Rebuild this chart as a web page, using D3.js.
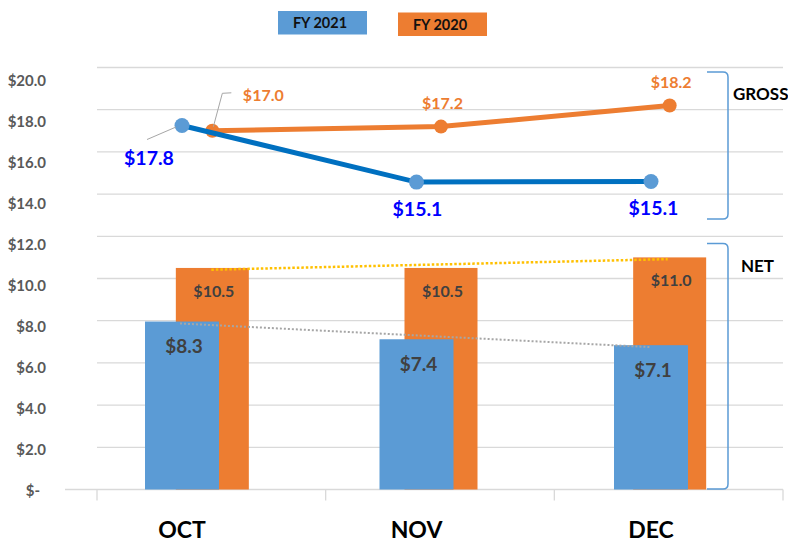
<!DOCTYPE html>
<html><head><meta charset="utf-8">
<script src="https://cdn.jsdelivr.net/npm/d3@7"></script>
<style>body{margin:0;background:#fff}svg{display:block;font-family:Lato,'Noto Sans',sans-serif}</style>
</head><body><svg id="c" width="788" height="543"></svg>
<script>
// ---- data ----
const categories = ["OCT", "NOV", "DEC"];
const seriesNames = ["FY 2021", "FY 2020"];
const gross2021 = [17.25, 14.57, 14.6];
const gross2021Labels = ["$17.8", "$15.1", "$15.1"];
const gross2020 = [17.0, 17.2, 18.2];
const gross2020Labels = ["$17.0", "$17.2", "$18.2"];
const net2021 = [7.96, 7.12, 6.84];
const net2021Labels = ["$8.3", "$7.4", "$7.1"];
const net2020 = [10.5, 10.5, 11.0];
const net2020Labels = ["$10.5", "$10.5", "$11.0"];
const yTicks = [0, 2, 4, 6, 8, 10, 12, 14, 16, 18, 20];
const yTickLabels = ["$-", "$2.0", "$4.0", "$6.0", "$8.0", "$10.0", "$12.0", "$14.0", "$16.0", "$18.0", "$20.0"];
const groupLabels = ["GROSS", "NET"];

// ---- styles ----
const C = {blue: "#5B9BD5", blueLine: "#0070C0", orange: "#ED7D31", grid: "#D9D9D9",
  axisText: "#595959", barText: "#404040", blueLabel: "#0000FF", yellow: "#FFC000", gray: "#A6A6A6"};

const svg = d3.select("#c");
svg.append("rect").attr("width", 788).attr("height", 543).attr("fill", "#fff");

const xBand = d3.scaleBand().domain(categories).range([97, 783]);
const xO = c => xBand(c) + xBand.bandwidth() / 2 + 1;
const xB = d3.scalePoint().domain(categories).range([182, 651]);
const y = d3.scaleLinear().domain([0, 20]).range([489.5, 67.5]);
const yLab = d3.scaleLinear().domain([0, 20]).range([491, 80.7]);

// gridlines
svg.append("g").selectAll("line").data(yTicks).join("line")
  .attr("x1", d => d === 0 ? 65 : 97).attr("x2", 783)
  .attr("y1", d => y(d)).attr("y2", d => y(d))
  .attr("stroke", C.grid).attr("stroke-width", 1.3);
// category ticks
const bounds = categories.map(c => xBand(c)).concat([xBand.range()[1]]);
svg.append("g").selectAll("line").data(bounds).join("line")
  .attr("x1", d => d).attr("x2", d => d).attr("y1", y(0)).attr("y2", y(0) + 11)
  .attr("stroke", C.grid).attr("stroke-width", 1.3);
// y labels
svg.append("g").selectAll("text").data(yTicks).join("text")
  .attr("x", 46).attr("y", d => yLab(d)).attr("dy", "0.36em")
  .attr("dx", d => d === 0 ? -6 : 0)
  .attr("text-anchor", "end").attr("fill", C.axisText)
  .attr("font-size", 15).attr("font-weight", 700)
  .text((d, i) => yTickLabels[i]);

// bars
svg.append("g").selectAll("rect").data(categories).join("rect")
  .attr("x", c => xO(c) - 36.5).attr("width", 73)
  .attr("y", (c, i) => y(net2020[i])).attr("height", (c, i) => y(0) - y(net2020[i]))
  .attr("fill", C.orange);
svg.append("g").selectAll("rect").data(categories).join("rect")
  .attr("x", c => xB(c) - 37).attr("width", 74)
  .attr("y", (c, i) => y(net2021[i])).attr("height", (c, i) => y(0) - y(net2021[i]))
  .attr("fill", C.blue);

// linear trendlines
function fit(vals) {
  const n = vals.length, mx = (n - 1) / 2, my = d3.mean(vals);
  let sxy = 0, sxx = 0;
  vals.forEach((v, i) => { sxy += (i - mx) * (v - my); sxx += (i - mx) * (i - mx); });
  const b = sxy / sxx;
  return i => my + b * (i - mx);
}
const f20 = fit(net2020), f21 = fit(net2021);
const last = categories.length - 1;
svg.append("line")
  .attr("x1", xO(categories[0]) - 1).attr("y1", y(f20(0)))
  .attr("x2", xO(categories[last]) - 2).attr("y2", y(f20(last)))
  .attr("stroke", C.yellow).attr("stroke-width", 2.5).attr("stroke-dasharray", "2.5,2");
svg.append("line")
  .attr("x1", xB(categories[0]) - 2).attr("y1", y(f21(0)))
  .attr("x2", xB(categories[last])).attr("y2", y(f21(last)))
  .attr("stroke", C.gray).attr("stroke-width", 2).attr("stroke-dasharray", "2,2");

// bar labels
svg.append("g").selectAll("text").data(categories).join("text")
  .attr("x", c => xO(c) + 1.5).attr("y", (c, i) => y(net2020[i]) + 29)
  .attr("text-anchor", "middle").attr("fill", C.barText)
  .attr("font-size", 16).attr("font-weight", 700)
  .text((c, i) => net2020Labels[i]);
svg.append("g").selectAll("text").data(categories).join("text")
  .attr("x", c => xB(c) + 2).attr("y", (c, i) => y(net2021[i]) + 31.5)
  .attr("text-anchor", "middle").attr("fill", C.barText)
  .attr("font-size", 19).attr("font-weight", 700)
  .text((c, i) => net2021Labels[i]);

// lines
const lineO = d3.line().x(d => xO(d.c)).y(d => y(d.v));
const lineB = d3.line().x(d => xB(d.c)).y(d => y(d.v));
const dO = categories.map((c, i) => ({c, v: gross2020[i]}));
const dB = categories.map((c, i) => ({c, v: gross2021[i]}));
svg.append("path").datum(dO).attr("d", lineO).attr("fill", "none")
  .attr("stroke", C.orange).attr("stroke-width", 5);
svg.append("g").selectAll("circle").data(dO).join("circle")
  .attr("cx", d => xO(d.c)).attr("cy", d => y(d.v)).attr("r", 7).attr("fill", C.orange);
svg.append("path").datum(dB).attr("d", lineB).attr("fill", "none")
  .attr("stroke", C.blueLine).attr("stroke-width", 5);
svg.append("g").selectAll("circle").data(dB).join("circle")
  .attr("cx", d => xB(d.c)).attr("cy", d => y(d.v)).attr("r", 7.5).attr("fill", C.blue);

// gross labels (placement offsets per label)
const oOff = [[51, -30], [1.5, -17.3], [1.5, -17.4]];
svg.append("g").selectAll("text").data(dO).join("text")
  .attr("x", (d, i) => xO(d.c) + oOff[i][0]).attr("y", (d, i) => y(d.v) + oOff[i][1])
  .attr("text-anchor", "middle").attr("fill", C.orange)
  .attr("font-size", 16).attr("font-weight", 700)
  .text((d, i) => gross2020Labels[i]);
const bOff = [[-33, 39], [1, 34], [2.5, 34]];
svg.append("g").selectAll("text").data(dB).join("text")
  .attr("x", (d, i) => xB(d.c) + bOff[i][0]).attr("y", (d, i) => y(d.v) + bOff[i][1])
  .attr("text-anchor", "middle").attr("fill", C.blueLabel)
  .attr("font-size", 19.5).attr("font-weight", 700)
  .text((d, i) => gross2021Labels[i]);
// leader lines
const pB0 = [xB(categories[0]), y(gross2021[0])];
const pO0 = [xO(categories[0]), y(gross2020[0])];
svg.append("path")
  .attr("d", `M${pB0[0] - 35},${pB0[1] + 14} L${pB0[0] - 6},${pB0[1] + 1.5}`)
  .attr("stroke", C.gray).attr("stroke-width", 1).attr("fill", "none");
svg.append("path")
  .attr("d", `M${pO0[0] + 19},${pO0[1] - 38} L${pO0[0] + 10},${pO0[1] - 37.5} L${pO0[0] + 1},${pO0[1] - 4}`)
  .attr("stroke", C.gray).attr("stroke-width", 1).attr("fill", "none");

// category labels
svg.append("g").selectAll("text").data(categories).join("text")
  .attr("x", c => xB(c)).attr("y", 538)
  .attr("text-anchor", "middle").attr("fill", "#000")
  .attr("font-size", 23).attr("font-weight", 700)
  .text(c => c);

// legend
const legend = [{name: seriesNames[0], color: C.blue, x: 278, y: 11}, {name: seriesNames[1], color: C.orange, x: 398, y: 12.5}];
const lg = svg.append("g").selectAll("g").data(legend).join("g")
  .attr("transform", d => `translate(${d.x},${d.y})`);
lg.append("rect").attr("width", 89).attr("height", 23.5).attr("fill", d => d.color);
lg.append("text").attr("x", 42).attr("y", 17).attr("text-anchor", "middle")
  .attr("font-size", 14.5).attr("font-weight", 700).attr("fill", "#111").text(d => d.name);

// brackets
function bracket(top, bottom) {
  const x0 = 707, x1 = 728, r = 5;
  return `M${x0},${top} L${x1 - r},${top} Q${x1},${top} ${x1},${top + r} L${x1},${bottom - r} Q${x1},${bottom} ${x1 - r},${bottom} L${x0},${bottom}`;
}
svg.append("path").attr("d", bracket(72, 219)).attr("fill", "none").attr("stroke", C.blue).attr("stroke-width", 1.5);
svg.append("path").attr("d", bracket(243.5, 489)).attr("fill", "none").attr("stroke", C.blue).attr("stroke-width", 1.5);
svg.append("text").attr("x", 733).attr("y", 100).attr("font-size", 17).attr("font-weight", 700).attr("fill", "#000").text(groupLabels[0]);
svg.append("text").attr("x", 741).attr("y", 271.5).attr("font-size", 17).attr("font-weight", 700).attr("fill", "#000").text(groupLabels[1]);
</script></body></html>
